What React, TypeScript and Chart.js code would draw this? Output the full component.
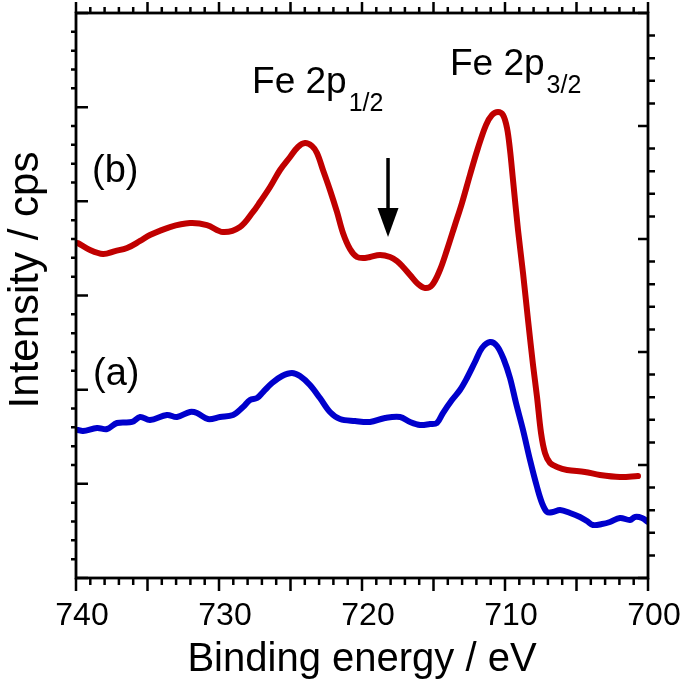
import React, { useEffect, useRef } from "react";
import { Chart, registerables } from "chart.js";

Chart.register(...registerables);

// ---- data (binding energy in eV, intensity in arbitrary units) ----
const energyB = [739.86, 739.02, 738.11, 737.27, 736.43, 735.52, 734.83, 733.43, 732.03, 730.84,
  729.72, 728.53, 727.62, 727.13, 726.43, 725.73, 725.03, 724.48, 723.99, 723.5,
  723.15, 722.73, 722.24, 721.75, 721.33, 720.84, 720.35, 719.79, 719.44, 718.74,
  718.04, 717.55, 717.13, 716.64, 716.08, 715.59, 715.1, 714.55, 714.06, 713.5,
  713.01, 712.45, 711.89, 711.33, 710.91, 710.49, 710.14, 709.86, 709.65, 709.44,
  709.09, 708.74, 708.39, 708.04, 707.76, 707.48, 707.2, 706.85, 706.36, 705.66,
  704.41, 703.36, 701.96, 700.7];
const intensityB = [3.557, 3.483, 3.441, 3.472, 3.504, 3.579, 3.642, 3.727, 3.77, 3.748,
  3.674, 3.727, 3.887, 3.993, 4.152, 4.333, 4.471, 4.577, 4.619, 4.587,
  4.513, 4.333, 4.12, 3.887, 3.664, 3.494, 3.409, 3.398, 3.409, 3.43,
  3.409, 3.366, 3.303, 3.218, 3.122, 3.08, 3.111, 3.271, 3.483, 3.749,
  3.982, 4.28, 4.566, 4.81, 4.917, 4.949, 4.917, 4.779, 4.545, 4.226,
  3.695, 3.239, 2.74, 2.262, 1.922, 1.54, 1.327, 1.221, 1.179, 1.147,
  1.126, 1.094, 1.073, 1.083];

const energyA = [739.86, 739.51, 738.53, 737.83, 737.13, 736.08, 735.52, 734.83, 733.64, 732.94,
  732.03, 731.54, 730.77, 729.93, 729.02, 728.32, 727.83, 727.34, 726.92, 726.29,
  725.59, 724.9, 724.34, 723.64, 722.94, 722.24, 721.54, 720.49, 719.44, 718.39,
  717.34, 716.64, 715.94, 715.24, 714.76, 714.34, 713.71, 713.15, 712.66, 712.1,
  711.61, 711.05, 710.56, 710.07, 709.65, 709.23, 708.74, 708.25, 707.76, 707.41,
  707.06, 706.64, 706.15, 705.45, 704.76, 704.27, 703.85, 703.22, 702.66, 701.96,
  701.26, 700.91, 700.42, 700.0];
const intensityA = [1.572, 1.561, 1.593, 1.582, 1.646, 1.657, 1.71, 1.678, 1.731, 1.71,
  1.763, 1.752, 1.688, 1.71, 1.731, 1.816, 1.89, 1.911, 1.975, 2.071,
  2.145, 2.177, 2.145, 2.05, 1.911, 1.763, 1.688, 1.667, 1.657, 1.699,
  1.71, 1.657, 1.625, 1.635, 1.646, 1.752, 1.89, 1.996, 2.124, 2.294,
  2.442, 2.506, 2.464, 2.315, 2.124, 1.858, 1.572, 1.253, 0.966, 0.796,
  0.701, 0.701, 0.722, 0.69, 0.648, 0.605, 0.563, 0.573, 0.595, 0.637,
  0.616, 0.648, 0.637, 0.595];

const xTickLabels = [740, 730, 720, 710, 700];
const xTitle = "Binding energy / eV";
const yTitle = "Intensity / cps";
const peakLabels = [
  { main: "Fe 2p", sub: "1/2", x: 727.69, y: 5.15 },
  { main: "Fe 2p", sub: "3/2", x: 713.85, y: 5.341 },
];
const curveLabels = [
  { text: "(b)", x: 738.88, y: 4.205 },
  { text: "(a)", x: 738.81, y: 2.049 },
];
const arrowMark = { x: 718.18, yStart: 4.46, yTip: 3.62 };

const FONT = '"Liberation Sans", Arial, Helvetica, sans-serif';

const toPoints = (xs: number[], ys: number[]) =>
  xs.map((x, i) => ({ x, y: ys[i] }));

const framePlugin = {
  id: "frameAndNotes",
  afterDatasetsDraw(chart: any) {
    const { ctx, chartArea, scales } = chart;
    const { left, right, top, bottom } = chartArea;
    const xs = scales.x;
    const ys = scales.y;
    const ys2 = scales.y2;
    ctx.save();
    ctx.strokeStyle = "#000";
    ctx.lineWidth = 2.5;
    ctx.lineCap = "butt";
    ctx.beginPath();
    // x ticks (outward), top and bottom
    for (let e = 700; e <= 740; e++) {
      const px = xs.getPixelForValue(e);
      const major = e % 5 === 0;
      ctx.moveTo(px, bottom);
      ctx.lineTo(px, bottom + (major ? 13 : 7));
      ctx.moveTo(px, top);
      ctx.lineTo(px, top - (major ? 11 : 6));
    }
    // left ticks: major inward, minor outward
    for (let i = 0; i <= 30; i++) {
      const py = ys.getPixelForValue(i / 5);
      ctx.moveTo(left, py);
      ctx.lineTo(i % 5 === 0 ? left + 12 : left - 5, py);
    }
    // right ticks: major inward, minor outward
    for (let i = 0; i <= 25; i++) {
      const py = ys2.getPixelForValue(i / 5);
      ctx.moveTo(right, py);
      ctx.lineTo(i % 5 === 0 ? right - 10 : right + 7, py);
    }
    ctx.stroke();
    ctx.lineWidth = 2.8;
    ctx.strokeRect(left, top, right - left, bottom - top);

    // texts
    ctx.fillStyle = "#000";
    ctx.textAlign = "left";
    ctx.textBaseline = "alphabetic";
    for (const p of peakLabels) {
      const px = xs.getPixelForValue(p.x);
      const py = ys.getPixelForValue(p.y);
      ctx.font = `37px ${FONT}`;
      ctx.fillText(p.main, px, py);
      const w = ctx.measureText(p.main).width;
      ctx.font = `25px ${FONT}`;
      ctx.fillText(p.sub, px + w + 2, py + 18);
    }
    ctx.font = `38px ${FONT}`;
    for (const c of curveLabels) {
      ctx.fillText(c.text, xs.getPixelForValue(c.x), ys.getPixelForValue(c.y));
    }

    // y-axis title
    ctx.save();
    ctx.translate(26, 280);
    ctx.rotate(-Math.PI / 2);
    ctx.textAlign = "center";
    ctx.textBaseline = "middle";
    ctx.font = `42px ${FONT}`;
    ctx.fillText(yTitle, 0, 0);
    ctx.restore();

    // arrow
    const ax = xs.getPixelForValue(arrowMark.x);
    const y0 = ys.getPixelForValue(arrowMark.yStart);
    const yt = ys.getPixelForValue(arrowMark.yTip);
    const headLen = 29;
    ctx.lineWidth = 3.5;
    ctx.beginPath();
    ctx.moveTo(ax, y0);
    ctx.lineTo(ax, yt - headLen + 2);
    ctx.stroke();
    ctx.beginPath();
    ctx.moveTo(ax - 10.5, yt - headLen);
    ctx.lineTo(ax + 10.5, yt - headLen);
    ctx.lineTo(ax, yt);
    ctx.closePath();
    ctx.fill();
    ctx.restore();
  },
};

export default function App() {
  const canvasRef = useRef<HTMLCanvasElement | null>(null);

  useEffect(() => {
    if (!canvasRef.current) return;
    const chart = new Chart(canvasRef.current, {
      type: "line",
      data: {
        datasets: [
          {
            label: "(b)",
            data: toPoints(energyB, intensityB),
            borderColor: "#c00000",
            borderWidth: 6,
            pointRadius: 0,
            tension: 0.35,
            borderCapStyle: "round",
            borderJoinStyle: "round",
            fill: false,
          },
          {
            label: "(a)",
            data: toPoints(energyA, intensityA),
            borderColor: "#0000cc",
            borderWidth: 6,
            pointRadius: 0,
            tension: 0.35,
            borderCapStyle: "round",
            borderJoinStyle: "round",
            fill: false,
          },
        ],
      },
      options: {
        animation: false,
        responsive: false,
        devicePixelRatio: 1,
        layout: { padding: { left: 0, top: 13, right: 37, bottom: 0 } },
        plugins: { legend: { display: false }, tooltip: { enabled: false } },
        scales: {
          x: {
            type: "linear",
            reverse: true,
            min: 700,
            max: 740,
            position: "bottom",
            grid: { display: false, drawTicks: false },
            border: { display: false },
            afterBuildTicks: (s: any) => {
              s.ticks = xTickLabels.map((v) => ({ value: v }));
            },
            ticks: {
              font: { size: 32, family: FONT },
              color: "#000",
              padding: 19,
              labelOffset: 6,
              maxRotation: 0,
              autoSkip: false,
            },
            title: {
              display: true,
              text: xTitle,
              color: "#000",
              font: { size: 40, family: FONT },
              padding: { top: 0, bottom: 1 },
            },
            afterFit: (s: any) => {
              s.height = 107;
              s.paddingLeft = 0;
              s.paddingRight = 0;
            },
          },
          y: {
            min: 0,
            max: 6,
            position: "left",
            grid: { display: false, drawTicks: false },
            border: { display: false },
            ticks: { display: false },
            title: { display: false },
            afterFit: (s: any) => {
              s.width = 76;
            },
          },
          y2: {
            min: 0,
            max: 5,
            position: "right",
            display: false,
          },
        },
      },
      plugins: [framePlugin],
    } as any);
    return () => chart.destroy();
  }, []);

  return (
    <div style={{ position: "absolute", left: 0, top: 0, width: 685, height: 685, background: "#fff" }}>
      <canvas ref={canvasRef} width={685} height={685} style={{ display: "block" }} />
    </div>
  );
}
